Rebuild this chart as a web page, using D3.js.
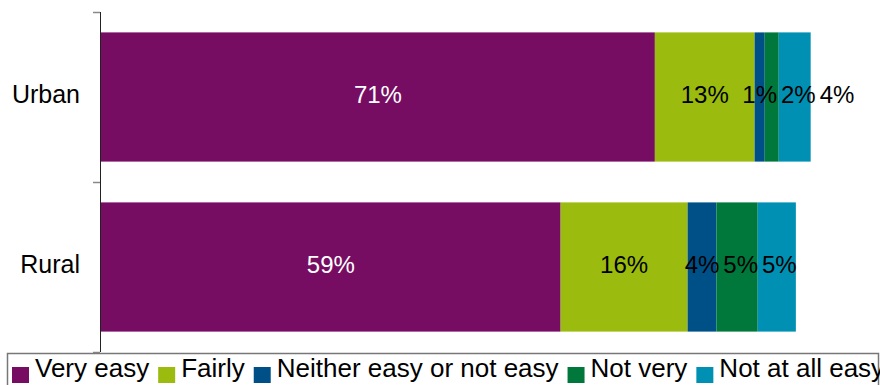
<!DOCTYPE html>
<html>
<head>
<meta charset="utf-8">
<script src="https://cdn.jsdelivr.net/npm/d3@7"></script>
<style>
  body { margin: 0; background: #fff; }
  svg { display: block; font-family: "Liberation Sans", Arial, sans-serif; }
</style>
</head>
<body>
<div id="chart"></div>
<script>
// data
var categories = ['Urban', 'Rural'];
var seriesNames = ['Very easy', 'Fairly', 'Neither easy or not easy', 'Not very', 'Not at all easy'];
var urbanValues = [71.1, 12.8, 1.3, 1.8, 4.1];
var ruralValues = [59.0, 16.3, 3.7, 5.3, 4.9];
var seriesColors = ['#760d63', '#9bbb0f', '#005088', '#00783c', '#0090b3'];
var labelColors = ['#ffffff', '#000000', '#000000', '#000000', '#000000'];

var width = 880, height = 385;
var svg = d3.select('#chart').append('svg').attr('width', width).attr('height', height);

// scales
var x = d3.scaleLinear().domain([0, 100]).range([101, 880]);
var y = d3.scaleBand().domain(categories).range([12, 352]).paddingInner(0.24).paddingOuter(0.12);

var rows = [urbanValues, ruralValues];

// stacked segments
rows.forEach(function (vals, ci) {
  var cat = categories[ci];
  var start = 0;
  var segs = vals.map(function (v, si) {
    var s = {x0: start, x1: start + v, v: v, si: si};
    start += v;
    return s;
  });
  var g = svg.append('g');
  g.selectAll('rect').data(segs).enter().append('rect')
    .attr('x', function (d) { return x(d.x0); })
    .attr('y', y(cat))
    .attr('width', function (d) { return x(d.x1) - x(d.x0); })
    .attr('height', y.bandwidth())
    .attr('fill', function (d) { return seriesColors[d.si]; });

  // labels, pushed right when they would overlap (like excel does)
  var labels = g.selectAll('text').data(segs).enter().append('text')
    .attr('y', y(cat) + y.bandwidth() / 2)
    .attr('dy', '0.25em')
    .attr('text-anchor', 'middle')
    .style('font-size', '24px')
    .attr('fill', function (d) { return labelColors[d.si]; })
    .text(function (d) { return Math.round(d.v) + '%'; });
  var prevRight = -Infinity;
  labels.each(function (d) {
    var w = this.getComputedTextLength();
    var cx = (x(d.x0) + x(d.x1)) / 2;
    if (cx - w / 2 < prevRight + 4) cx = prevRight + 4 + w / 2;
    prevRight = cx + w / 2;
    d3.select(this).attr('x', cx);
  });
});

// category axis
svg.append('line')
  .attr('x1', 100.5).attr('x2', 100.5)
  .attr('y1', 12).attr('y2', 352)
  .attr('stroke', '#222').attr('stroke-width', 1);

var bounds = [y.range()[0]].concat(categories.map(function (c) { return y(c) - y.step() * y.paddingInner() / 2 + y.step(); }));
svg.selectAll('.tick-b').data(bounds).enter().append('line')
  .attr('x1', 93).attr('x2', 100)
  .attr('y1', function (d) { return Math.round(d) + 0.5; })
  .attr('y2', function (d) { return Math.round(d) + 0.5; })
  .attr('stroke', '#888').attr('stroke-width', 1.5);

svg.selectAll('.cat').data(categories).enter().append('text')
  .attr('x', 80)
  .attr('y', function (d) { return y(d) + y.bandwidth() / 2; })
  .attr('dy', '0.25em')
  .attr('text-anchor', 'end')
  .style('font-size', '25px')
  .attr('fill', '#000')
  .text(function (d) { return d; });

// legend
var legend = svg.append('g');
legend.append('rect')
  .attr('x', 7.5).attr('y', 353.5)
  .attr('width', 871).attr('height', 40)
  .attr('fill', '#fff').attr('stroke', '#777').attr('stroke-width', 1.5);

var lx = 12;
seriesNames.forEach(function (name, i) {
  legend.append('rect')
    .attr('x', lx).attr('y', 367)
    .attr('width', 17).attr('height', 16)
    .attr('fill', seriesColors[i]);
  var t = legend.append('text')
    .attr('x', lx + 23).attr('y', 377)
    .style('font-size', '26px')
    .attr('fill', '#000')
    .text(name);
  lx = lx + 23 + t.node().getComputedTextLength() + 9;
});
</script>
</body>
</html>
